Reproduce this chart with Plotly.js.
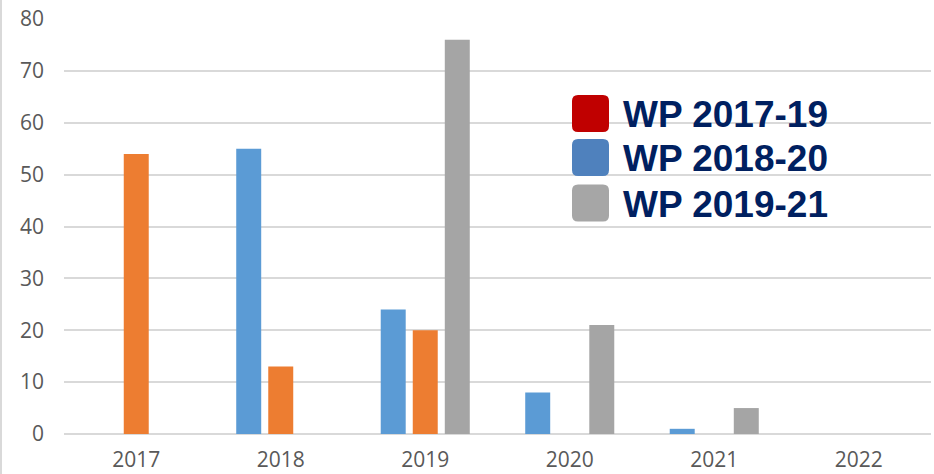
<!DOCTYPE html>
<html>
<head>
<meta charset="utf-8">
<script src="https://cdn.plot.ly/plotly-3.0.1.min.js"></script>
<style>html,body{margin:0;padding:0;background:#fff;}#chart{width:934px;height:474px;}</style>
</head>
<body>
<div id="chart"></div>
<script>
const years = ['2017', '2018', '2019', '2020', '2021', '2022'];
const wp1820 = [null, 55, 24, 8, 1, null];
const wp1719 = [54, 13, 20, null, null, null];
const wp1921 = [null, null, 76, 21, 5, null];
const yTicks = [0, 10, 20, 30, 40, 50, 60, 70, 80];
const legendNames = ['WP 2017-19', 'WP 2018-20', 'WP 2019-21'];
const legendColors = ['#c00000', '#4f81bd', '#a6a6a6'];

const barColors = {blue: '#5b9bd5', orange: '#ed7d31', gray: '#a5a5a5'};

const traces = [
  {type: 'bar', x: years, y: wp1820, name: 'WP 2018-20', marker: {color: barColors.blue}, showlegend: false, hoverinfo: 'y'},
  {type: 'bar', x: years, y: wp1719, name: 'WP 2017-19', marker: {color: barColors.orange}, showlegend: false, hoverinfo: 'y'},
  {type: 'bar', x: years, y: wp1921, name: 'WP 2019-21', marker: {color: barColors.gray}, showlegend: false, hoverinfo: 'y'}
];

const L = 64, R = 3, T = 19, B = 40, W = 934, H = 474;
const pw = W - L - R, ph = H - T - B;
function px2x(px) { return (px - L) / pw; }
function px2y(py) { return 1 - (py - T) / ph; }

function roundRect(x0, y0, x1, y1, r) {
  const X = v => px2x(v), Y = v => px2y(v);
  return 'M' + X(x0 + r) + ',' + Y(y0) +
    ' L' + X(x1 - r) + ',' + Y(y0) +
    ' Q' + X(x1) + ',' + Y(y0) + ' ' + X(x1) + ',' + Y(y0 + r) +
    ' L' + X(x1) + ',' + Y(y1 - r) +
    ' Q' + X(x1) + ',' + Y(y1) + ' ' + X(x1 - r) + ',' + Y(y1) +
    ' L' + X(x0 + r) + ',' + Y(y1) +
    ' Q' + X(x0) + ',' + Y(y1) + ' ' + X(x0) + ',' + Y(y1 - r) +
    ' L' + X(x0) + ',' + Y(y0 + r) +
    ' Q' + X(x0) + ',' + Y(y0) + ' ' + X(x0 + r) + ',' + Y(y0) + ' Z';
}

const shapes = [];
const annotations = [];
const rowCenters = [113.5, 157.5, 203];
legendNames.forEach((name, i) => {
  const cy = rowCenters[i];
  shapes.push({
    type: 'path', xref: 'paper', yref: 'paper',
    path: roundRect(572, cy - 18.5, 609, cy + 18.5, 6),
    fillcolor: legendColors[i], line: {width: 0}, layer: 'above'
  });
  annotations.push({
    xref: 'paper', yref: 'paper', x: px2x(621), y: px2y(cy + 1),
    xanchor: 'left', yanchor: 'middle', showarrow: false,
    text: '<b>' + name + '</b>',
    font: {family: 'Liberation Sans, Arial, sans-serif', size: 37, color: '#002060'}
  });
});
shapes.push({
  type: 'line', xref: 'paper', yref: 'paper',
  x0: px2x(1), x1: px2x(1), y0: px2y(0), y1: px2y(H),
  line: {color: '#d9d9d9', width: 2}, layer: 'below'
});

const layout = {
  width: W, height: H,
  margin: {l: L, r: R, t: T, b: B, pad: 0},
  paper_bgcolor: '#ffffff', plot_bgcolor: '#ffffff',
  barmode: 'group', bargap: 0.335, bargroupgap: 0.22,
  showlegend: false,
  font: {family: 'Open Sans, sans-serif', color: '#595959', size: 21},
  xaxis: {
    type: 'category', showgrid: false, zeroline: false, showline: false,
    ticks: '', tickfont: {size: 21, color: '#595959'}, ticklabelstandoff: 11
  },
  yaxis: {
    range: [0, 80], tickvals: yTicks, showgrid: true, gridcolor: '#d9d9d9', gridwidth: 2,
    zeroline: true, zerolinecolor: '#d9d9d9', zerolinewidth: 2, showline: false,
    ticks: '', tickfont: {size: 21, color: '#595959'}, ticklabelstandoff: 19
  },
  shapes: shapes,
  annotations: annotations
};

Plotly.newPlot('chart', traces, layout, {displayModeBar: false, staticPlot: true});
</script>
</body>
</html>
